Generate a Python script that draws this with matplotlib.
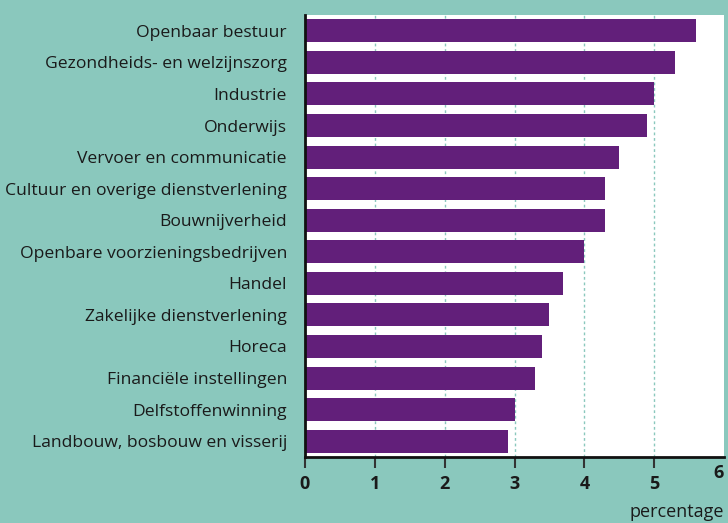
import matplotlib.pyplot as plt

# sectors, top to bottom
sectors = [
    "Openbaar bestuur",
    "Gezondheids- en welzijnszorg",
    "Industrie",
    "Onderwijs",
    "Vervoer en communicatie",
    "Cultuur en overige dienstverlening",
    "Bouwnijverheid",
    "Openbare voorzieningsbedrijven",
    "Handel",
    "Zakelijke dienstverlening",
    "Horeca",
    "Financiële instellingen",
    "Delfstoffenwinning",
    "Landbouw, bosbouw en visserij",
]
values = [5.6, 5.3, 5.0, 4.9, 4.5, 4.3, 4.3, 4.0, 3.7, 3.5, 3.4, 3.3, 3.0, 2.9]
xticks = [0, 1, 2, 3, 4, 5]

bg = "#8ac8bd"
bar_color = "#621f7a"
text_color = "#1a1a1a"

plt.rcParams['font.family'] = ['Open Sans', 'DejaVu Sans']

fig = plt.figure(figsize=(7.28, 5.23), dpi=100, facecolor=bg)
ax = fig.add_axes([305 / 728, 1 - 457 / 523, 419 / 728, 442 / 523])
ax.set_facecolor("white")

ypos = list(range(len(sectors)))
ax.barh(ypos, values, height=0.73, color=bar_color, zorder=2)

ax.set_xlim(0, 6)
ax.set_ylim(len(sectors) - 0.5, -0.5)

ax.set_yticks(ypos)
ax.set_yticklabels(sectors, fontsize=12.6, color=text_color)
ax.tick_params(axis='y', length=0, pad=13)

ax.set_xticks(xticks)
ax.set_xticklabels([str(t) for t in xticks], fontsize=13, fontweight='bold', color=text_color)
ax.tick_params(axis='x', length=8, width=1.5, color="#333333", pad=5)

# the last tick label sits a bit higher in the original
ax.text(6, -0.015, "6", transform=ax.get_xaxis_transform(), ha='right', va='top',
        fontsize=13, fontweight='bold', color=text_color)

ax.grid(axis='x', color=bg, linestyle=(0, (2, 2)), linewidth=1, zorder=1)

for side in ['top', 'right']:
    ax.spines[side].set_visible(False)
ax.spines['left'].set_linewidth(2)
ax.spines['bottom'].set_linewidth(2)
ax.spines['left'].set_color("#111111")
ax.spines['bottom'].set_color("#111111")

fig.text(724 / 728, 1 - 512 / 523, "percentage", ha='right', va='center',
         fontsize=13, color=text_color)

fig.savefig("out.png", dpi=100, facecolor=bg)
